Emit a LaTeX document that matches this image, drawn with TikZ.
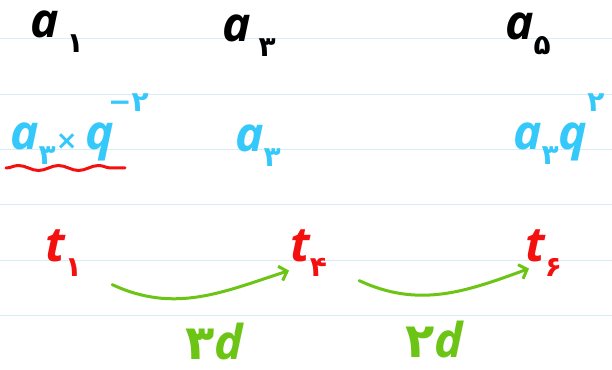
\documentclass[tikz,border=0pt]{standalone}
\usepackage{fontspec}
\setmainfont{Open Sans}
\newfontfamily\fadigit{DejaVu Sans}
\usetikzlibrary{arrows.meta,decorations.pathmorphing}
\definecolor{NoteBlue}{HTML}{35C8FA}
\definecolor{NoteRed}{HTML}{F51010}
\definecolor{NoteGreen}{HTML}{6CC414}
\definecolor{NoteRule}{HTML}{D8ECF8}
\newcommand{\idx}[1]{\raisebox{-0.3em}{\fontsize{28}{28}\selectfont\fadigit\bfseries\upshape #1}}
\newcommand{\pw}[1]{\raisebox{0.8em}{\fontsize{28}{28}\selectfont\fadigit\bfseries\upshape #1}}

\begin{document}
\begin{tikzpicture}[x=1pt,y=1pt,>={Straight Barb[length=7pt,width=15pt]},
  hand/.style={inner sep=0pt,anchor=base west,font=\fontsize{48}{52}\selectfont\bfseries\itshape},
  topterm/.style={hand,text=black},
  midterm/.style={hand,text=NoteBlue},
  tterm/.style={hand,text=NoteRed},
  gaplabel/.style={hand,text=NoteGreen},
  gaparrow/.style={->,NoteGreen,line width=3pt,line cap=round}]
  \fill[white] (0,0) rectangle (612,369);
  \useasboundingbox (0,0) rectangle (612,369);
  % ruled paper
  \foreach \y in {330,274,219,164,108,53}
    \draw[NoteRule,line width=1pt] (0,\y) -- (612,\y);

  % terms of the geometric sequence
  \node[topterm] (aone) at (30,331) {a\,\idx{۱}};
  \node[topterm] (athree) at (222,327) {a\,\idx{۳}};
  \node[topterm] (afive) at (505,329) {a\idx{۵}};

  \node[midterm] (eqleft) at (10,219) {a\idx{۳}{\fontsize{26}{26}\selectfont\fadigit\bfseries\upshape ×}\,q\kern-6pt\pw{−۲}};
  \node[midterm] (eqmid) at (235,217) {a\idx{۳}};
  \node[midterm] (eqright) at (513,219) {a\idx{۳}q\pw{۲}};
  \draw[NoteRed,line width=3pt,line cap=round,decorate,
    decoration={snake,amplitude=2.5pt,segment length=40pt}]
    ([shift={(-4pt,-18pt)}]eqleft.base west) -- ++(119pt,0);

  % terms of the arithmetic sequence
  \node[tterm] (tone) at (45,107) {t\idx{۱}};
  \node[tterm] (tfour) at (290,107) {t\idx{۴}};
  \node[tterm] (tsix) at (525,107) {t\idx{۶}};

  \draw[gaparrow] ([shift={(30pt,-8pt)}]tone.south east) to[out=-25,in=198] ([shift={(-1pt,6pt)}]tfour.south west);
  \draw[gaparrow] ([shift={(32pt,-4pt)}]tfour.south east) to[out=-25,in=200] ([shift={(4pt,8pt)}]tsix.south west);

  \node[gaplabel] (dleft) at (185,10) {{\fadigit\bfseries\upshape ۳}d};
  \node[gaplabel] (dright) at (405,12) {{\fadigit\bfseries\upshape ۲}d};
\end{tikzpicture}
\end{document}
